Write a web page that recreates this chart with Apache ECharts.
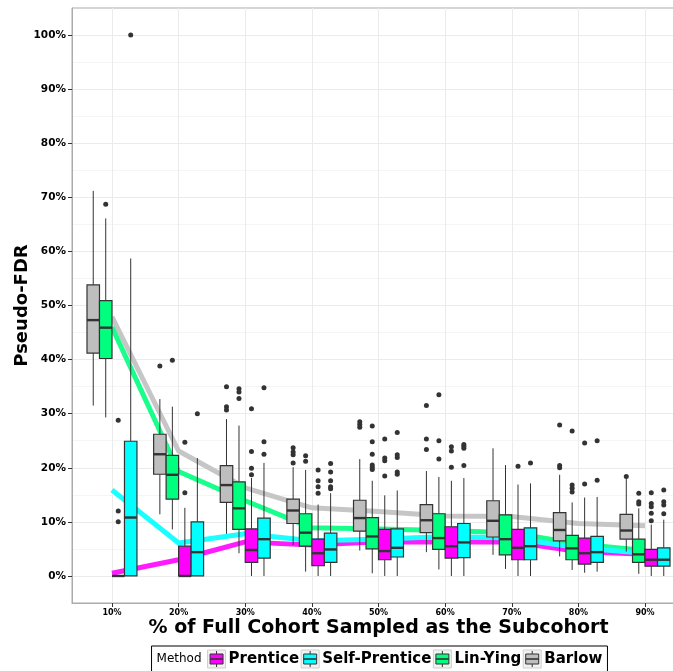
<!DOCTYPE html>
<html>
<head>
<meta charset="utf-8">
<script src="https://cdn.jsdelivr.net/npm/echarts@6/dist/echarts.min.js"></script>
<style>
  html, body { margin: 0; padding: 0; background: #ffffff; }
  #chart { width: 673px; height: 671px; }
</style>
</head>
<body>
<div id="chart"></div>
<script>
// Subcohort sampling fractions (x categories)
const categories = ['10%', '20%', '30%', '40%', '50%', '60%', '70%', '80%', '90%'];

// Methods in dodge order (left to right inside each group)
const methods = ['Barlow', 'Lin-Ying', 'Prentice', 'Self-Prentice'];
// Order of entries in the legend
const legendOrder = ['Prentice', 'Self-Prentice', 'Lin-Ying', 'Barlow'];

const methodColors = {
  'Prentice': '#ff00ff',
  'Self-Prentice': '#00ffff',
  'Lin-Ying': '#00ff7f',
  'Barlow': '#bebebe'
};
const lineColors = {
  'Prentice': '#ff1aff',
  'Self-Prentice': '#1affff',
  'Lin-Ying': '#1aff8c',
  'Barlow': '#c6c6c6'
};

// Box summaries per fraction: [lower whisker, Q1, median, Q3, upper whisker]
const barlowBoxes = [
  [0.315, 0.412, 0.473, 0.538, 0.712],
  [0.114, 0.188, 0.225, 0.262, 0.327],
  [0.078, 0.136, 0.168, 0.204, 0.290],
  [0.057, 0.097, 0.121, 0.142, 0.201],
  [0.047, 0.083, 0.107, 0.140, 0.216],
  [0.044, 0.080, 0.103, 0.132, 0.194],
  [0.039, 0.072, 0.102, 0.139, 0.236],
  [0.036, 0.065, 0.085, 0.117, 0.187],
  [0.045, 0.068, 0.084, 0.114, 0.180]
];
const linYingBoxes = [
  [0.293, 0.402, 0.459, 0.509, 0.661],
  [0.086, 0.142, 0.187, 0.223, 0.313],
  [0.042, 0.086, 0.125, 0.174, 0.278],
  [0.008, 0.055, 0.080, 0.115, 0.196],
  [0.005, 0.050, 0.073, 0.108, 0.176],
  [0.012, 0.049, 0.070, 0.115, 0.183],
  [0.013, 0.039, 0.068, 0.113, 0.205],
  [0.011, 0.030, 0.051, 0.075, 0.136],
  [0.004, 0.025, 0.040, 0.068, 0.125]
];
const prenticeBoxes = [
  [0.000, 0.000, 0.000, 0.000, 0.000],
  [0.000, 0.000, 0.000, 0.055, 0.126],
  [0.000, 0.025, 0.048, 0.087, 0.181],
  [0.000, 0.019, 0.042, 0.068, 0.132],
  [0.000, 0.030, 0.046, 0.086, 0.149],
  [0.000, 0.033, 0.055, 0.091, 0.176],
  [0.000, 0.030, 0.052, 0.086, 0.169],
  [0.006, 0.022, 0.042, 0.070, 0.145],
  [0.000, 0.018, 0.030, 0.049, 0.095]
];
const selfPrenticeBoxes = [
  [0.000, 0.000, 0.108, 0.249, 0.587],
  [0.000, 0.000, 0.044, 0.100, 0.218],
  [0.000, 0.033, 0.068, 0.107, 0.209],
  [0.000, 0.025, 0.049, 0.079, 0.153],
  [0.000, 0.035, 0.052, 0.087, 0.158],
  [0.000, 0.034, 0.062, 0.097, 0.181],
  [0.000, 0.030, 0.055, 0.089, 0.171],
  [0.008, 0.025, 0.044, 0.073, 0.146],
  [0.000, 0.018, 0.030, 0.052, 0.104]
];

// Outlying replicates per fraction
const barlowOutliers = [
  [], [0.388], [0.350, 0.313, 0.307], [0.237, 0.229, 0.224, 0.209],
  [0.285, 0.280, 0.275], [0.315, 0.253, 0.234], [], [0.279, 0.204, 0.200], [0.184]
];
const linYingOutliers = [
  [0.687], [0.399], [0.346, 0.340, 0.328], [0.222, 0.212],
  [0.277, 0.248, 0.225, 0.205, 0.201, 0.197], [0.335, 0.250, 0.216], [],
  [0.268, 0.168, 0.162, 0.155], [0.153, 0.137, 0.133]
];
const prenticeOutliers = [
  [0.288, 0.120, 0.100], [0.247, 0.154], [0.309, 0.230, 0.199, 0.187],
  [0.196, 0.176, 0.165, 0.153], [0.253, 0.218, 0.213, 0.185], [0.239, 0.231, 0.201],
  [0.203], [0.246, 0.170], [0.154, 0.134, 0.128, 0.116, 0.102]
];
const selfPrenticeOutliers = [
  [1.000], [0.300], [0.348, 0.248, 0.225], [0.208, 0.192, 0.176, 0.165, 0.161],
  [0.265, 0.224, 0.219, 0.192, 0.188], [0.243, 0.240, 0.236, 0.204], [0.209],
  [0.250, 0.177], [0.159, 0.137, 0.131, 0.115]
];

// Mean pseudo-FDR per fraction (trend lines)
const barlowMeans = [0.479, 0.231, 0.163, 0.126, 0.119, 0.111, 0.110, 0.097, 0.093];
const linYingMeans = [0.460, 0.193, 0.139, 0.089, 0.087, 0.084, 0.080, 0.059, 0.047];
const prenticeMeans = [0.005, 0.030, 0.063, 0.057, 0.063, 0.063, 0.063, 0.045, 0.040];
const selfPrenticeMeans = [0.159, 0.061, 0.078, 0.065, 0.068, 0.073, 0.070, 0.052, 0.042];

// Y axis tick values and grid
const yTicks = [0, 0.1, 0.2, 0.3, 0.4, 0.5, 0.6, 0.7, 0.8, 0.9, 1.0];
const yMinorGrid = [0.05, 0.15, 0.25, 0.35, 0.45, 0.55, 0.65, 0.75, 0.85, 0.95];

const boxData = {
  'Barlow': barlowBoxes, 'Lin-Ying': linYingBoxes,
  'Prentice': prenticeBoxes, 'Self-Prentice': selfPrenticeBoxes
};
const outlierData = {
  'Barlow': barlowOutliers, 'Lin-Ying': linYingOutliers,
  'Prentice': prenticeOutliers, 'Self-Prentice': selfPrenticeOutliers
};
const meanData = {
  'Barlow': barlowMeans, 'Lin-Ying': linYingMeans,
  'Prentice': prenticeMeans, 'Self-Prentice': selfPrenticeMeans
};

const FONT = '"DejaVu Sans", Verdana, sans-serif';
const DODGE = 0.75;                       // total dodge width per group
const BOX_W = DODGE / methods.length;     // width of one box
const EDGE = '#333333';

function dodgeOffset(m) {
  return (m - (methods.length - 1) / 2) * BOX_W;
}

function renderBox(params, api) {
  const x = api.value(0);
  const lo = api.value(1), q1 = api.value(2), med = api.value(3), q3 = api.value(4), hi = api.value(5);
  const h = BOX_W / 2;
  const tl = api.coord([x - h, q3]);
  const br = api.coord([x + h, q1]);
  const mL = api.coord([x - h, med]);
  const mR = api.coord([x + h, med]);
  const pHi = api.coord([x, hi]);
  const pQ3 = api.coord([x, q3]);
  const pQ1 = api.coord([x, q1]);
  const pLo = api.coord([x, lo]);
  const color = api.visual('color');
  return {
    type: 'group',
    children: [
      { type: 'line', shape: { x1: pHi[0], y1: pHi[1], x2: pQ3[0], y2: pQ3[1] },
        style: { stroke: EDGE, lineWidth: 1 } },
      { type: 'line', shape: { x1: pQ1[0], y1: pQ1[1], x2: pLo[0], y2: pLo[1] },
        style: { stroke: EDGE, lineWidth: 1 } },
      { type: 'rect', shape: { x: tl[0], y: tl[1], width: br[0] - tl[0], height: Math.max(br[1] - tl[1], 0) },
        style: { fill: color, stroke: EDGE, lineWidth: 1.2 } },
      { type: 'line', shape: { x1: mL[0], y1: mL[1], x2: mR[0], y2: mR[1] },
        style: { stroke: EDGE, lineWidth: 2.4 } }
    ]
  };
}

const series = [];

// Background grid lines (drawn through the axis scales)
const gridLines = [];
yTicks.forEach(v => gridLines.push({ yAxis: v, lineStyle: { color: '#ebebeb', width: 1, type: 'solid' } }));
yMinorGrid.forEach(v => gridLines.push({ yAxis: v, lineStyle: { color: '#f5f5f5', width: 1, type: 'solid' } }));
categories.forEach((c, i) => gridLines.push({ xAxis: i + 1, lineStyle: { color: '#ebebeb', width: 1, type: 'solid' } }));
series.push({
  type: 'scatter',
  name: 'grid',
  data: [],
  z: 0,
  silent: true,
  markLine: {
    z: 0,
    silent: true,
    symbol: ['none', 'none'],
    label: { show: false },
    emphasis: { disabled: true },
    animation: false,
    lineStyle: { type: 'solid' },
    data: gridLines
  }
});

// Mean trend lines (beneath the boxes)
methods.forEach(name => {
  series.push({
    type: 'line',
    name: name + ' mean',
    z: 1,
    silent: true,
    symbol: 'none',
    data: meanData[name].map((v, i) => [i + 1, v]),
    lineStyle: { color: lineColors[name], width: 5 },
    itemStyle: { color: lineColors[name] }
  });
});

// Boxes
methods.forEach((name, m) => {
  series.push({
    type: 'custom',
    name: name,
    z: 2,
    silent: true,
    itemStyle: { color: methodColors[name] },
    encode: { x: 0, y: [1, 2, 3, 4, 5] },
    renderItem: renderBox,
    data: boxData[name].map((b, i) => [i + 1 + dodgeOffset(m)].concat(b))
  });
});

// Outlier points
methods.forEach((name, m) => {
  const pts = [];
  outlierData[name].forEach((vals, i) => {
    vals.forEach(v => pts.push([i + 1 + dodgeOffset(m), v]));
  });
  series.push({
    type: 'scatter',
    name: name + ' outliers',
    z: 3,
    silent: true,
    symbol: 'circle',
    symbolSize: 5,
    itemStyle: { color: '#333333', opacity: 1 },
    data: pts
  });
});

// Legend drawn as graphics with boxplot keys
function measure(text, font) {
  const ctx = document.createElement('canvas').getContext('2d');
  ctx.font = font;
  return ctx.measureText(text).width;
}
const legendFont = 'bold 15px "DejaVu Sans"';
const titleFont = '12px "DejaVu Sans"';
const KEY = 18, PAD = 5, GAP_T = 6, GAP_K = 3, GAP_L = 2;
const titleW = measure('Method', titleFont);
let totalW = PAD + titleW + GAP_T;
legendOrder.forEach((n, i) => {
  totalW += KEY + GAP_K + measure(n, legendFont) + (i < legendOrder.length - 1 ? GAP_L : 0);
});
totalW += PAD;
const legendCx = 379.5, legendTop = 646, legendH = 27;
const legendLeft = legendCx - totalW / 2;
const legendMidY = legendTop + 13;
const legendEls = [
  { type: 'rect', shape: { x: legendLeft, y: legendTop, width: totalW, height: legendH },
    style: { fill: '#ffffff', stroke: '#000000', lineWidth: 1 }, z: 10 },
  { type: 'text', x: legendLeft + PAD, y: legendMidY,
    style: { text: 'Method', font: titleFont, fill: '#000000', textVerticalAlign: 'middle', verticalAlign: 'middle' }, z: 11 }
];
let cx = legendLeft + PAD + titleW + GAP_T;
legendOrder.forEach(n => {
  const ky = legendMidY - KEY / 2;
  legendEls.push(
    { type: 'rect', shape: { x: cx, y: ky, width: KEY, height: KEY },
      style: { fill: '#f2f2f2', stroke: '#cfcfcf', lineWidth: 1 }, z: 11 },
    { type: 'line', shape: { x1: cx + KEY / 2, y1: ky + 1, x2: cx + KEY / 2, y2: ky + KEY - 1 },
      style: { stroke: EDGE, lineWidth: 1 }, z: 12 },
    { type: 'rect', shape: { x: cx + 2.5, y: ky + 4, width: KEY - 5, height: KEY - 8 },
      style: { fill: methodColors[n], stroke: EDGE, lineWidth: 1 }, z: 13 },
    { type: 'line', shape: { x1: cx + 2.5, y1: ky + KEY / 2, x2: cx + KEY - 2.5, y2: ky + KEY / 2 },
      style: { stroke: EDGE, lineWidth: 1.6 }, z: 14 }
  );
  cx += KEY + GAP_K;
  legendEls.push({ type: 'text', x: cx, y: legendMidY + 0.5,
    style: { text: n, font: legendFont, fill: '#000000', textVerticalAlign: 'middle', verticalAlign: 'middle' }, z: 11 });
  cx += measure(n, legendFont) + GAP_L;
});

const chart = echarts.init(document.getElementById('chart'), null, { renderer: 'canvas' });
chart.setOption({
  animation: false,
  backgroundColor: '#ffffff',
  grid: {
    left: 72, top: 8, width: 613, height: 595,
    show: true, borderColor: '#ababab', borderWidth: 1, backgroundColor: '#ffffff',
    containLabel: false, outerBoundsMode: 'none'
  },
  xAxis: {
    type: 'value',
    min: 0.4,
    max: categories.length + 0.6,
    name: '% of Full Cohort Sampled as the Subcohort',
    nameLocation: 'middle',
    nameGap: 16,
    nameMoveOverlap: false,
    nameTextStyle: { fontFamily: FONT, fontWeight: 'bold', fontSize: 19, color: '#000000' },
    axisLine: { show: true, onZero: false, lineStyle: { color: '#ababab', width: 1 } },
    axisTick: { show: true, length: 4, customValues: categories.map((c, i) => i + 1),
      lineStyle: { color: '#333333', width: 1 } },
    axisLabel: {
      show: true, margin: 6,
      customValues: categories.map((c, i) => i + 1),
      formatter: v => categories[Math.round(v) - 1] || '',
      fontFamily: FONT, fontWeight: 'bold', fontSize: 8, color: '#000000'
    },
    splitLine: { show: false }
  },
  yAxis: {
    type: 'value',
    min: -0.05,
    max: 1.05,
    name: 'Pseudo-FDR',
    nameLocation: 'middle',
    nameGap: 41,
    nameRotate: 90,
    nameMoveOverlap: false,
    nameTextStyle: { fontFamily: FONT, fontWeight: 'bold', fontSize: 18, color: '#000000' },
    axisLine: { show: true, onZero: false, lineStyle: { color: '#ababab', width: 1 } },
    axisTick: { show: true, length: 4, customValues: yTicks, lineStyle: { color: '#333333', width: 1 } },
    axisLabel: {
      show: true, margin: 6,
      customValues: yTicks,
      formatter: v => Math.round(v * 100) + '%',
      fontFamily: FONT, fontWeight: 'bold', fontSize: 10.5, color: '#000000'
    },
    splitLine: { show: false }
  },
  series: series,
  graphic: { elements: legendEls }
});
</script>
</body>
</html>
